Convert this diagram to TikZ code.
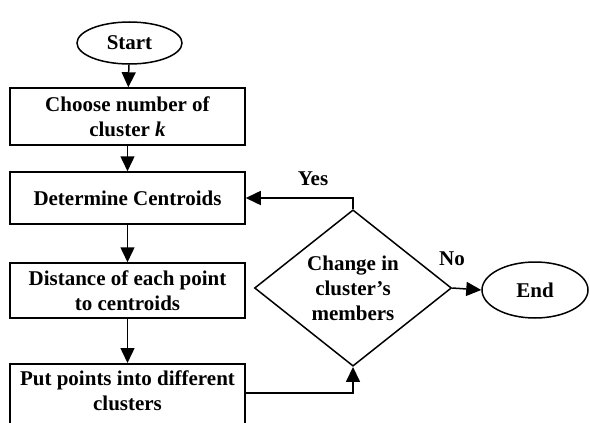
\documentclass[tikz,border=0pt]{standalone}
\usepackage{fontspec}
\setmainfont{Liberation Serif}
\usetikzlibrary{shapes.geometric,arrows.meta}
\begin{document}
\begin{tikzpicture}[x=1pt,y=-1pt,
  every node/.style={font=\fontsize{21}{25}\selectfont\bfseries},
  procbox/.style={draw,line width=1.5pt,rectangle,minimum width=235pt,align=center,inner sep=0pt},
  termnode/.style={draw,line width=1.5pt,ellipse,inner sep=0pt},
  decnode/.style={draw,line width=1.5pt,diamond,inner sep=0pt,minimum width=197pt,minimum height=150pt,align=center},
  conn/.style={line width=1.5pt,-{Triangle[length=15pt,width=14pt]}},
  lbl/.style={inner sep=0pt}]
\useasboundingbox (0,0) rectangle (590,423);
\clip (0,0) rectangle (590,423);
\node[termnode,minimum width=105pt,minimum height=42pt] (start) at (129.5,43) {Start};
\node[procbox,minimum height=57pt] (choose) at (127.5,116.5) {Choose number of\\cluster \textit{k}};
\node[procbox,minimum height=52pt] (determine) at (127.5,198) {Determine Centroids};
\node[procbox,minimum height=55pt] (distance) at (127.5,290.5) {Distance of each point\\to centroids};
\node[procbox,anchor=north,inner ysep=7pt,text depth=45pt] (put) at (127.5,363) {Put points into different\\clusters};
\node[decnode] (dec) at (353,288) {Change in\\cluster’s\\members};
\node[termnode,minimum width=106pt,minimum height=56pt] (end) at (535,290) {End};
\node[lbl] (yes) at (313,179) {Yes};
\node[lbl] (no) at (452,259) {No};
\coordinate (pe) at ([yshift=-30pt]put.north east);
\draw[conn] (start) -- (choose);
\draw[conn] (choose) -- (determine);
\draw[conn] (determine) -- (distance);
\draw[conn] (distance) -- (put);
\draw[conn] (dec.north) |- (determine.east);
\draw[conn] (dec.east) -- (end.west);
\draw[conn] (pe) -| (dec.south);
\end{tikzpicture}
\end{document}
